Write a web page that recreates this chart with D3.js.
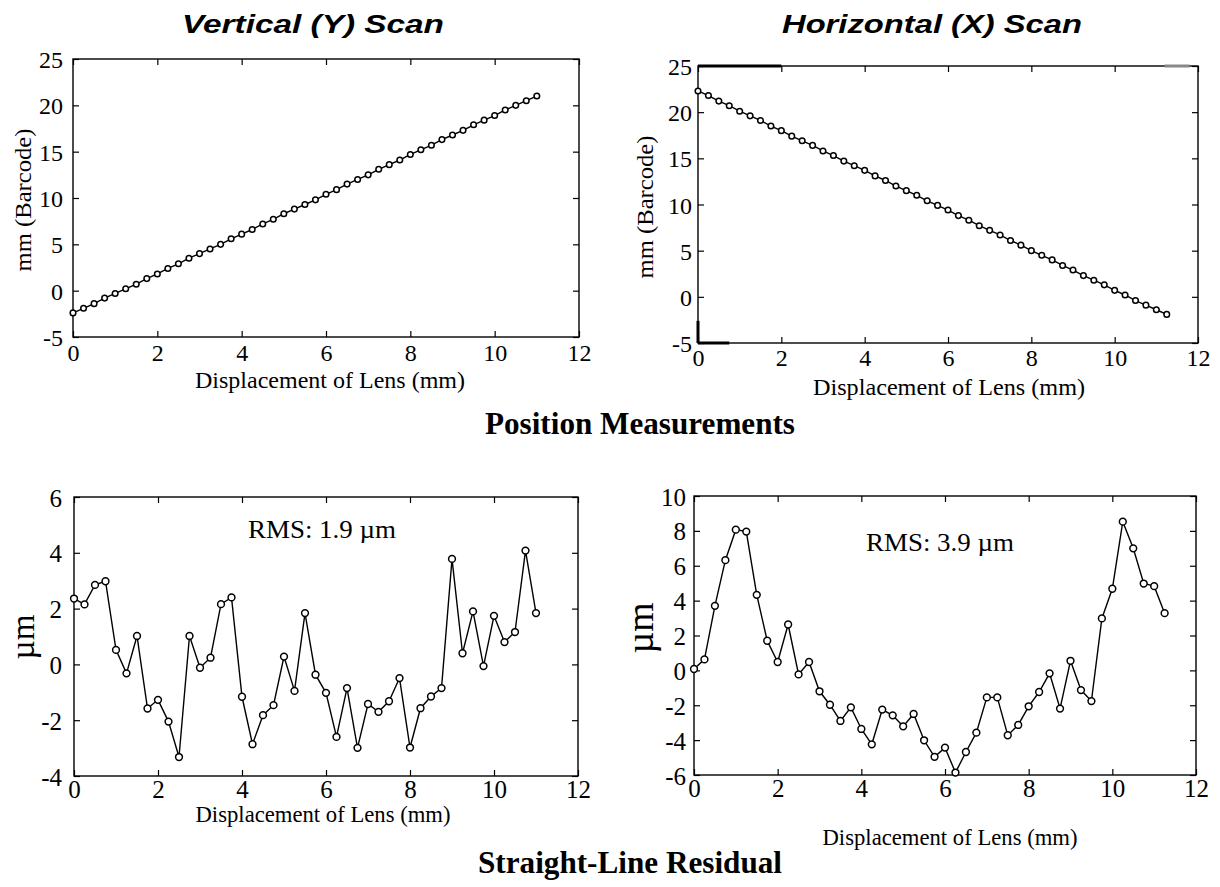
<!DOCTYPE html>
<html>
<head>
<meta charset="utf-8">
<script src="https://cdn.jsdelivr.net/npm/d3@7/dist/d3.min.js"></script>
<style>
  html, body { margin: 0; padding: 0; background: #fff; }
  svg { display: block; }
</style>
</head>
<body>
<svg id="chart" width="1220" height="887"></svg>
<script>
// ---------------- DATA ----------------
const xTicks = [0, 2, 4, 6, 8, 10, 12];
const posYTicks = [-5, 0, 5, 10, 15, 20, 25];
const resYTicksLeft = [-4, -2, 0, 2, 4, 6];
const resYTicksRight = [-6, -4, -2, 0, 2, 4, 6, 8, 10];

// Vertical (Y) scan: lens displacement (mm), 45 samples
const vertX = [0, 0.25, 0.5, 0.75, 1, 1.25, 1.5, 1.75, 2, 2.25, 2.5, 2.75, 3, 3.25, 3.5, 3.75,
  4, 4.25, 4.5, 4.75, 5, 5.25, 5.5, 5.75, 6, 6.25, 6.5, 6.75, 7, 7.25, 7.5, 7.75,
  8, 8.25, 8.5, 8.75, 9, 9.25, 9.5, 9.75, 10, 10.25, 10.5, 10.75, 11];
// Horizontal (X) scan: lens displacement (mm), 46 samples
const horzX = [0, 0.25, 0.5, 0.75, 1, 1.25, 1.5, 1.75, 2, 2.25, 2.5, 2.75, 3, 3.25, 3.5, 3.75,
  4, 4.25, 4.5, 4.75, 5, 5.25, 5.5, 5.75, 6, 6.25, 6.5, 6.75, 7, 7.25, 7.5, 7.75,
  8, 8.25, 8.5, 8.75, 9, 9.25, 9.5, 9.75, 10, 10.25, 10.5, 10.75, 11, 11.25];

// Position measurements, mm (Barcode)
const vertPos = [-2.4, -1.9, -1.4, -0.8, -0.3, 0.2, 0.7, 1.3, 1.8, 2.4, 2.9, 3.5, 4.0, 4.5, 5.0, 5.6,
  6.1, 6.6, 7.2, 7.7, 8.3, 8.8, 9.3, 9.8, 10.4, 10.9, 11.5, 12.0, 12.5, 13.1, 13.6, 14.1,
  14.7, 15.2, 15.7, 16.3, 16.8, 17.3, 17.9, 18.4, 18.9, 19.5, 20.0, 20.5, 21.0];
const horzPos = [22.3, 21.8, 21.2, 20.7, 20.1, 19.6, 19.1, 18.5, 18.0, 17.4, 16.9, 16.4, 15.8, 15.3, 14.7, 14.2,
  13.7, 13.1, 12.6, 12.0, 11.5, 11.0, 10.4, 9.9, 9.4, 8.8, 8.3, 7.7, 7.2, 6.7, 6.1, 5.6,
  5.0, 4.5, 4.0, 3.4, 2.9, 2.3, 1.8, 1.3, 0.7, 0.2, -0.4, -0.9, -1.4, -1.9];

// Straight-line residuals, µm
const vertRes = [2.36, 2.15, 2.85, 2.98, 0.52, -0.32, 1.02, -1.58, -1.27, -2.05, -3.32, 1.02, -0.12, 0.24, 2.16, 2.40,
  -1.16, -2.86, -1.82, -1.46, 0.28, -0.95, 1.84, -0.37, -1.02, -2.60, -0.85, -2.99, -1.42, -1.70, -1.32, -0.49,
  -2.98, -1.57, -1.15, -0.85, 3.78, 0.40, 1.90, -0.06, 1.74, 0.80, 1.16, 4.08, 1.84];
const horzRes = [0.08, 0.63, 3.70, 6.32, 8.07, 7.96, 4.33, 1.70, 0.48, 2.63, -0.23, 0.48, -1.20, -1.97, -2.90, -2.12,
  -3.36, -4.24, -2.25, -2.58, -3.21, -2.50, -4.01, -4.96, -4.43, -5.86, -4.68, -3.57, -1.55, -1.55, -3.72, -3.13,
  -2.06, -1.24, -0.17, -2.19, 0.55, -1.13, -1.76, 2.98, 4.68, 8.53, 7.00, 4.98, 4.83, 3.28];

// ---------------- DRAWING ----------------
const svg = d3.select('#chart');
const SERIF = '"Liberation Serif", "Times New Roman", Times, serif';
const SANS = '"Liberation Sans", Arial, Helvetica, sans-serif';

function panel(cfg) {
  const g = svg.append('g');
  const x = d3.scaleLinear().domain([0, 12]).range([cfg.l, cfg.r]);
  const y = d3.scaleLinear().domain(cfg.yDomain).range([cfg.b, cfg.t]);
  const fmt = d => String(d);

  // inward ticks on all four sides
  const bottom = g.append('g').attr('transform', `translate(0,${cfg.b})`)
    .call(d3.axisBottom(x).tickValues(xTicks).tickSize(-6).tickFormat(fmt));
  const top = g.append('g').attr('transform', `translate(0,${cfg.t})`)
    .call(d3.axisTop(x).tickValues(xTicks).tickSize(-6).tickFormat(''));
  const left = g.append('g').attr('transform', `translate(${cfg.l},0)`)
    .call(d3.axisLeft(y).tickValues(cfg.yTicks).tickSize(-6).tickFormat(fmt));
  const right = g.append('g').attr('transform', `translate(${cfg.r},0)`)
    .call(d3.axisRight(y).tickValues(cfg.yTicks).tickSize(-6).tickFormat(''));
  [bottom, top, left, right].forEach(a => {
    a.select('.domain').remove();
    a.selectAll('.tick line').attr('stroke', '#000').attr('stroke-width', 1.2);
  });
  bottom.selectAll('.tick text')
    .attr('y', cfg.xLabY).attr('dy', null)
    .attr('font-family', SERIF).attr('font-size', cfg.tickFs).attr('fill', '#000');
  left.selectAll('.tick text')
    .attr('x', -cfg.yLabGap).attr('dy', '0.36em')
    .attr('font-family', SERIF).attr('font-size', cfg.tickFs).attr('fill', '#000');

  // frame
  g.append('rect')
    .attr('x', cfg.l).attr('y', cfg.t)
    .attr('width', cfg.r - cfg.l).attr('height', cfg.b - cfg.t)
    .attr('fill', 'none').attr('stroke', '#000').attr('stroke-width', 1.4);

  // extra heavy frame segments (as in the scanned original)
  (cfg.heavy || []).forEach(h => {
    const pts = h.side === 'top' ? [[x(h.from), cfg.t], [x(h.to), cfg.t]]
      : h.side === 'bottom' ? [[x(h.from), cfg.b], [x(h.to), cfg.b]]
      : [[cfg.l, y(h.from)], [cfg.l, y(h.to)]];
    g.append('path').attr('d', d3.line()(pts))
      .attr('stroke', h.color || '#000').attr('stroke-width', 3).attr('fill', 'none');
  });

  // data line + open circles
  const pts = cfg.xs.map((d, i) => [d, cfg.ys[i]]);
  g.append('path').datum(pts)
    .attr('d', d3.line().x(d => x(d[0])).y(d => y(d[1])))
    .attr('fill', 'none').attr('stroke', '#000').attr('stroke-width', 1.4);
  g.selectAll('circle.pt').data(pts).join('circle')
    .attr('class', 'pt')
    .attr('cx', d => x(d[0])).attr('cy', d => y(d[1]))
    .attr('r', cfg.r0)
    .attr('fill', '#fff').attr('stroke', '#000').attr('stroke-width', 1.5);

  // x axis label
  g.append('text')
    .attr('x', cfg.xTitle.x).attr('y', cfg.xTitle.y)
    .attr('text-anchor', 'middle')
    .attr('font-family', SERIF).attr('font-size', cfg.xTitle.fs)
    .attr('textLength', cfg.xTitle.w).attr('lengthAdjust', 'spacingAndGlyphs')
    .text('Displacement of Lens (mm)');

  // y axis label (rotated)
  g.append('text')
    .attr('transform', `translate(${cfg.yTitle.x},${cfg.yTitle.y}) rotate(-90)`)
    .attr('text-anchor', 'middle')
    .attr('font-family', SERIF).attr('font-size', cfg.yTitle.fs)
    .attr('textLength', cfg.yTitle.w).attr('lengthAdjust', 'spacingAndGlyphs')
    .text(cfg.yTitle.text);

  if (cfg.note) {
    g.append('text')
      .attr('x', cfg.note.x).attr('y', cfg.note.y)
      .attr('text-anchor', 'middle')
      .attr('font-family', SERIF).attr('font-size', cfg.note.fs)
      .attr('textLength', cfg.note.w).attr('lengthAdjust', 'spacingAndGlyphs')
      .text(cfg.note.text);
  }
  if (cfg.title) {
    g.append('text')
      .attr('x', cfg.title.x).attr('y', cfg.title.y)
      .attr('text-anchor', 'middle')
      .attr('font-family', SANS).attr('font-weight', 'bold').attr('font-style', 'italic')
      .attr('font-size', cfg.title.fs)
      .attr('textLength', cfg.title.w).attr('lengthAdjust', 'spacingAndGlyphs')
      .text(cfg.title.text);
  }
}

// Top-left: Vertical (Y) scan positions
panel({
  l: 73, r: 579, t: 59, b: 337,
  yDomain: [-5, 25], yTicks: posYTicks, xs: vertX, ys: vertPos, r0: 2.8,
  tickFs: 24, xLabY: 24, yLabGap: 10,
  xTitle: { x: 330, y: 388, fs: 24, w: 270 },
  yTitle: { x: 31, y: 200, fs: 24, w: 143, text: 'mm (Barcode)' },
  title: { x: 313, y: 33, fs: 26, w: 262, text: 'Vertical (Y) Scan' }
});

// Top-right: Horizontal (X) scan positions
panel({
  l: 698, r: 1198, t: 66, b: 343,
  yDomain: [-5, 25], yTicks: posYTicks, xs: horzX, ys: horzPos, r0: 2.8,
  tickFs: 24, xLabY: 23, yLabGap: 6,
  heavy: [
    { side: 'top', from: 0, to: 2.0 },
    { side: 'bottom', from: 0, to: 0.75 },
    { side: 'left', from: -5, to: -2.6 },
    { side: 'top', from: 11.2, to: 11.8, color: '#888' }
  ],
  xTitle: { x: 949, y: 395, fs: 24, w: 272 },
  yTitle: { x: 653, y: 207, fs: 24, w: 143, text: 'mm (Barcode)' },
  title: { x: 932, y: 33, fs: 26, w: 300, text: 'Horizontal (X) Scan' }
});

// Bottom-left: Vertical residual
panel({
  l: 74, r: 578, t: 497, b: 776,
  yDomain: [-4, 6], yTicks: resYTicksLeft, xs: vertX, ys: vertRes, r0: 3.4,
  tickFs: 25, xLabY: 22, yLabGap: 12,
  xTitle: { x: 323, y: 822, fs: 23, w: 255 },
  yTitle: { x: 34, y: 637, fs: 34, w: 45, text: 'µm' },
  note: { x: 322, y: 538, fs: 26, w: 148, text: 'RMS: 1.9 µm' }
});

// Bottom-right: Horizontal residual
panel({
  l: 694, r: 1196, t: 496, b: 775,
  yDomain: [-6, 10], yTicks: resYTicksRight, xs: horzX, ys: horzRes, r0: 3.4,
  tickFs: 25, xLabY: 22, yLabGap: 8,
  xTitle: { x: 950, y: 845, fs: 23, w: 255 },
  yTitle: { x: 653, y: 628, fs: 38, w: 51, text: 'µm' },
  note: { x: 940, y: 551, fs: 25, w: 148, text: 'RMS: 3.9 µm' }
});

// Section captions
svg.append('text')
  .attr('x', 640).attr('y', 434).attr('text-anchor', 'middle')
  .attr('font-family', SERIF).attr('font-weight', 'bold').attr('font-size', 31)
  .attr('textLength', 310).attr('lengthAdjust', 'spacingAndGlyphs')
  .text('Position Measurements');
svg.append('text')
  .attr('x', 630).attr('y', 873).attr('text-anchor', 'middle')
  .attr('font-family', SERIF).attr('font-weight', 'bold').attr('font-size', 31)
  .attr('textLength', 304).attr('lengthAdjust', 'spacingAndGlyphs')
  .text('Straight-Line Residual');
</script>
</body>
</html>
